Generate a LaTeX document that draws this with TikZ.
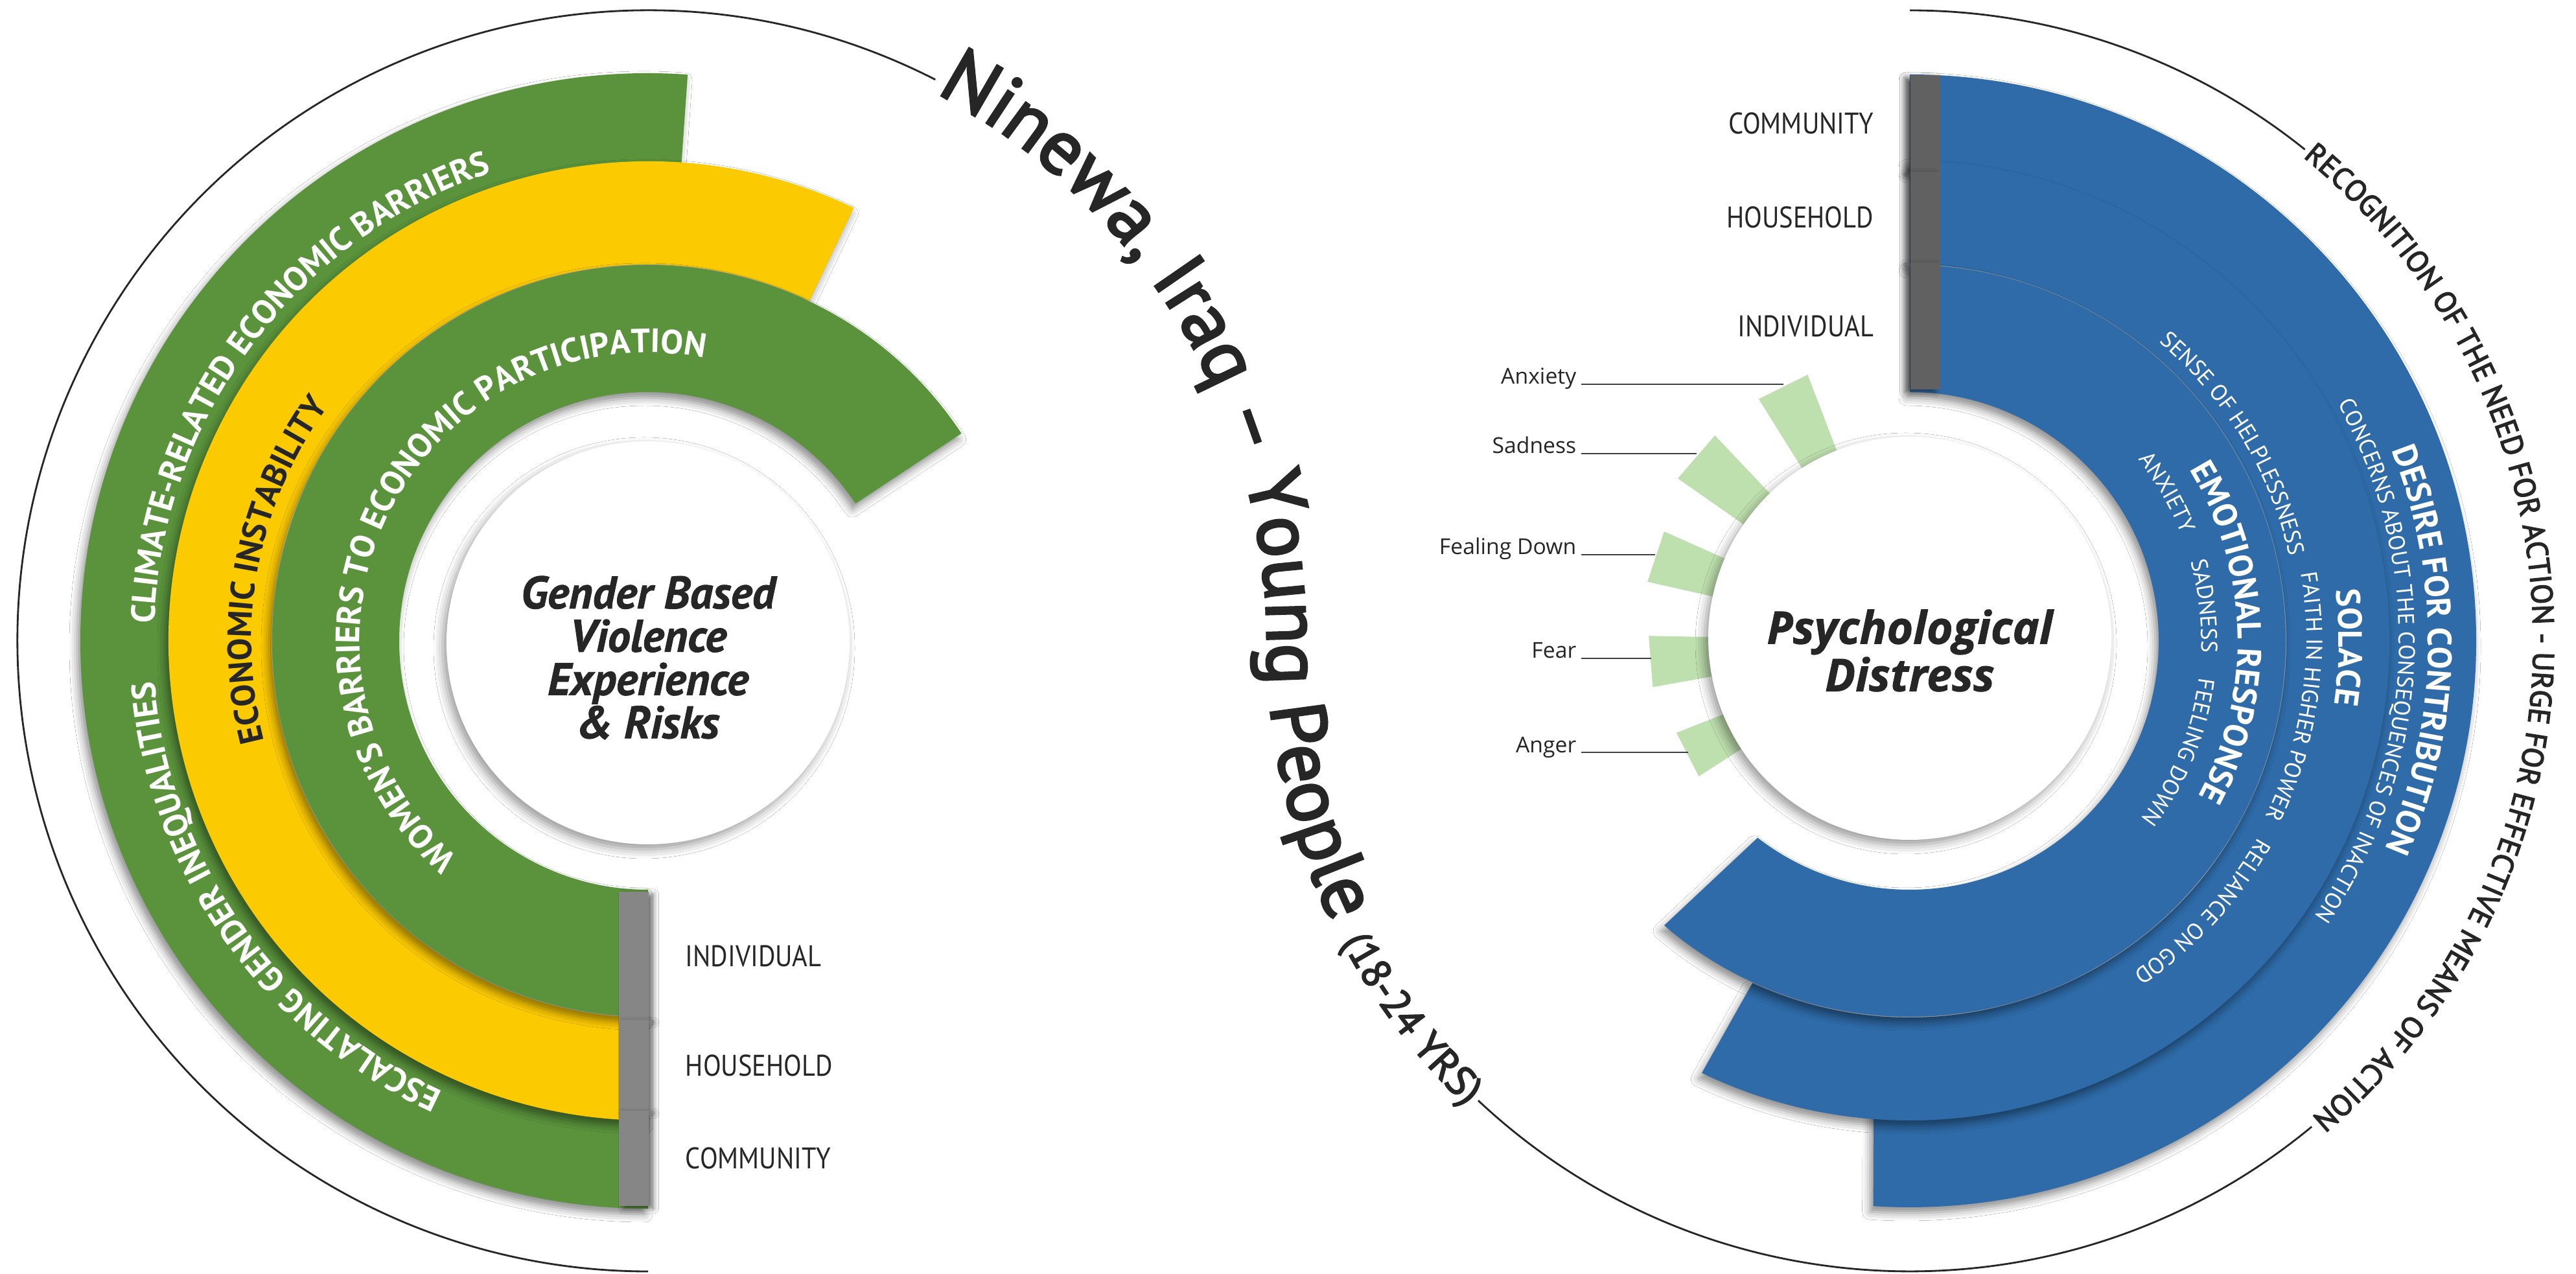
\documentclass[tikz,border=0pt]{standalone}
\usepackage{fontspec}
\newfontfamily\ptsans{PT Sans}
\newfontfamily\ptsemi{PT Sans}[FakeBold=3]
\newfontfamily\ptheavy{PT Sans}[FakeBold=1.2]
\newfontfamily\ptnarrow{PT Sans}[FakeStretch=0.88]
\newfontfamily\osans{Open Sans}
\newfontfamily\osheavy{Open Sans}[FakeBold=1.2]
\usetikzlibrary{calc,positioning,decorations.text,shadows.blur}

\definecolor{ringgreen}{HTML}{5A933C}
\definecolor{ringyellow}{HTML}{FCCA00}
\definecolor{ringblue}{HTML}{2E6BA8}
\definecolor{palegreen}{HTML}{BEDFAE}
\definecolor{bargrey}{HTML}{868686}
\definecolor{bardark}{HTML}{616161}
\definecolor{inkdark}{HTML}{262626}

\newcommand{\ringbold}{\ptsans\bfseries\fontsize{14.8pt}{16pt}\selectfont}
\newcommand{\ringthin}{\ptsans\fontsize{10pt}{11pt}\selectfont}
\newcommand{\titlefont}{\ptsemi\fontsize{33.9pt}{36pt}\selectfont}
\newcommand{\agefont}{\ptsemi\fontsize{18pt}{20pt}\selectfont}
\newcommand{\rimfont}{\ptsemi\fontsize{13.1pt}{14pt}\selectfont}

% annular sector: centre, style, inner r, outer r, start, outer end, inner end
\newcommand{\band}[7]{%
  \fill[#2] ($(#1)+(#5:#4)$) arc[start angle=#5, end angle=#6, radius=#4]
    -- ($(#1)+(#7:#3)$) arc[start angle=#7, end angle=#5, radius=#3] -- cycle;}
% text on a circle: centre, radius, start, end, format, text
\newcommand{\arctext}[6]{%
  \path[decorate, decoration={text along path, text={|#5|#6}}]
    ($(#1)+(#3:#2)$) arc[start angle=#3, end angle=#4, radius=#2];}
% pale wedge beside the core: centre, from, to, outer r
\newcommand{\emowedge}[4]{%
  \fill[palegreen] ($(#1)+(#2:2.9)$) -- ($(#1)+(#2:#4)$) -- ($(#1)+(#3:#4)$)
    -- ($(#1)+(#3:2.9)$) -- cycle;}

\begin{document}
\begin{tikzpicture}[
    rimline/.style={line width=0.8pt, inkdark},
    bandshadow/.style={blur shadow={shadow xshift=-0.05cm, shadow yshift=-0.09cm,
        shadow blur radius=0.12cm, shadow opacity=45}},
    greenband/.style={fill=ringgreen, bandshadow},
    yellowband/.style={fill=ringyellow, bandshadow},
    blueband/.style={fill=ringblue, bandshadow},
    core/.style={circle, fill=white, minimum size=6.22cm, inner sep=0pt,
        blur shadow={shadow xshift=-0.06cm, shadow yshift=-0.08cm,
        shadow blur radius=0.14cm, shadow opacity=40}},
    levelbar/.style={rectangle, minimum width=0.46cm, inner sep=0pt},
    leftbar/.style={levelbar, fill=bargrey, blur shadow={shadow xshift=0.08cm,
        shadow yshift=-0.04cm, shadow blur radius=0.08cm, shadow opacity=50}},
    rightbar/.style={levelbar, fill=bardark, blur shadow={shadow xshift=-0.08cm,
        shadow yshift=-0.04cm, shadow blur radius=0.08cm, shadow opacity=50}},
    levelname/.style={inner sep=0pt, text=inkdark,
        font=\ptnarrow\fontsize{13.1pt}{14pt}\selectfont},
    emolabel/.style={anchor=base east, inner xsep=0.07cm, inner ysep=0pt, text=inkdark,
        font=\osans\fontsize{9.6pt}{11pt}\selectfont},
    leader/.style={line width=0.6pt, black!75},
  ]
\fill[white] (0,0) rectangle (39.75,19.65);
\useasboundingbox (0,0) rectangle (39.75,19.65);
\coordinate (L) at (10.00,9.76);
\coordinate (R) at (29.47,9.76);

% rims and title
\draw[rimline] ($(L)+(62.9:9.73)$) arc[start angle=62.9, end angle=270, radius=9.73];
\draw[rimline] ($(R)+(90:9.73)$) arc[start angle=90, end angle=51.2, radius=9.73];
\draw[rimline] ($(R)+(-50.4:9.73)$) arc[start angle=-50.4, end angle=-133.2, radius=9.73];
\path[decorate, decoration={text along path,
    text={|\titlefont\color{inkdark}|Ninewa, Iraq – Young People |\agefont\color{inkdark}|(18-24 YRS)}}]
  ($(L)+(62.3:9.55)$) arc[start angle=62.3, end angle=0, radius=9.55]
  arc[start angle=180, end angle=234, radius=9.92];
\arctext{R}{9.62}{50.9}{-60}{\rimfont\color{inkdark}}{RECOGNITION OF THE NEED FOR ACTION - URGE FOR EFFECTIVE MEANS OF ACTION}

% left: gender based violence
\band{L}{greenband}{7.28}{8.76}{86}{270}{270}
\band{L}{yellowband}{5.81}{7.40}{64.6}{270}{270}
\band{L}{greenband}{3.84}{5.80}{33.5}{270}{270}
\arctext{L}{7.64}{245.5}{170}{\ringbold\color{white}}{ESCALATING GENDER INEQUALITIES}
\arctext{L}{7.62}{178}{95}{\ringbold\color{white}}{CLIMATE-RELATED ECONOMIC BARRIERS}
\arctext{L}{6.12}{194.6}{130}{\ringbold\color{inkdark}}{ECONOMIC INSTABILITY}
\arctext{L}{4.45}{228.8}{60}{\ringbold\color{white}}{WOMEN’S BARRIERS TO ECONOMIC PARTICIPATION}

\node[leftbar, minimum height=1.98cm] (lbarI) at (9.775,4.90) {};
\node[leftbar, minimum height=1.40cm] (lbarH) at (9.775,3.21) {};
\node[leftbar, minimum height=1.47cm] (lbarC) at (9.775,1.775) {};
\node[levelname, right=0.56cm of lbarI] (llabI) {INDIVIDUAL};
\node[levelname, right=0.56cm of lbarH] (llabH) {HOUSEHOLD};
\node[levelname, right=0.56cm of lbarC] (llabC) {COMMUNITY};

\node[core] (gbvcore) at (10.00,9.73) {};
\node[align=center, text=inkdark, font=\ptheavy\bfseries\itshape\fontsize{20pt}{19pt}\selectfont]
  (gbvtext) at (10.00,9.50) {Gender Based\\Violence\\Experience\\\& Risks};

% right: psychological distress
\band{R}{blueband}{7.28}{8.74}{90}{-93.7}{-94.4}
\band{R}{blueband}{5.81}{7.40}{90}{-115.7}{-114.7}
\band{R}{blueband}{3.84}{5.80}{90}{-130.8}{-127.7}
\arctext{R}{8.00}{21.6}{-40}{\ringbold\color{white}}{DESIRE FOR CONTRIBUTION}
\arctext{R}{7.55}{29}{-45}{\ringthin\color{white}}{CONCERNS ABOUT THE CONSEQUENCES OF INACTION}
\arctext{R}{6.62}{6.8}{-20}{\ringbold\color{white}}{SOLACE}
\arctext{R}{6.00}{50.2}{0}{\ringthin\color{white}}{SENSE OF HELPLESSNESS}
\arctext{R}{6.12}{9.8}{-28}{\ringthin\color{white}}{FAITH IN HIGHER POWER}
\arctext{R}{6.17}{-29.5}{-65}{\ringthin\color{white}}{RELIANCE ON GOD}
\arctext{R}{5.06}{31.5}{-40}{\ringbold\color{white}}{EMOTIONAL RESPONSE}
\arctext{R}{4.50}{38.5}{10}{\ringthin\color{white}}{ANXIETY}
\arctext{R}{4.50}{15.8}{-10}{\ringthin\color{white}}{SADNESS}
\arctext{R}{4.50}{-7.2}{-50}{\ringthin\color{white}}{FEELING DOWN}

\emowedge{R}{111}{122}{4.40}
\emowedge{R}{133.5}{145}{4.37}
\emowedge{R}{156}{167.3}{4.15}
\emowedge{R}{178.9}{190.2}{4.03}
\emowedge{R}{201.5}{212.7}{3.87}

\node[core] (pdcore) at (29.47,9.80) {};
\node[align=center, text=inkdark, font=\osheavy\bfseries\itshape\fontsize{19.8pt}{18.2pt}\selectfont]
  (pdtext) at (29.47,9.61) {Psychological\\Distress};

\node[rightbar, minimum height=1.49cm] (rbarC) at (29.705,17.745) {};
\node[rightbar, minimum height=1.40cm] (rbarH) at (29.705,16.30) {};
\node[rightbar, minimum height=1.96cm] (rbarI) at (29.705,14.62) {};
\node[levelname, left=0.55cm of rbarC] (rlabC) {COMMUNITY};
\node[levelname, left=0.55cm of rbarH] (rlabH) {HOUSEHOLD};
\node[levelname, left=0.55cm of rbarI] (rlabI) {INDIVIDUAL};

\node[emolabel] (anxlab) at (24.40,13.72) {Anxiety};
\node[emolabel] (sadlab) at (24.40,12.65) {Sadness};
\node[emolabel] (downlab) at (24.40,11.09) {Fealing Down};
\node[emolabel] (fearlab) at (24.40,9.49) {Fear};
\node[emolabel] (angerlab) at (24.40,8.04) {Anger};
\coordinate (anxend) at (27.52,13.72);
\coordinate (sadend) at (26.18,12.65);
\coordinate (downend) at (25.54,11.09);
\coordinate (fearend) at (25.48,9.49);
\coordinate (angerend) at (26.05,8.04);
\draw[leader] (anxlab.base east) -- (anxend);
\draw[leader] (sadlab.base east) -- (sadend);
\draw[leader] (downlab.base east) -- (downend);
\draw[leader] (fearlab.base east) -- (fearend);
\draw[leader] (angerlab.base east) -- (angerend);
\end{tikzpicture}
\end{document}
